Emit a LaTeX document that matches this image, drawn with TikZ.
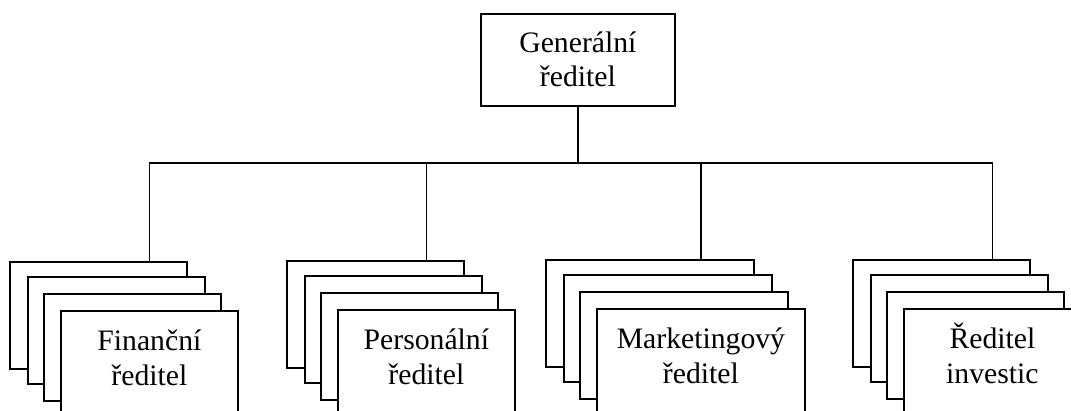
\documentclass[tikz,border=0pt]{standalone}
\usepackage{fontspec}
\setmainfont{Liberation Serif}
\begin{document}
\begin{tikzpicture}[x=1pt,y=-1pt,
  card/.style={draw, line width=1.8pt, fill=white, inner sep=0pt,
    minimum height=107pt, anchor=north west},
  narrow/.style={card, minimum width=177pt},
  wide/.style={card, minimum width=208pt},
  caption/.style={font=\fontsize{29.7}{35}\selectfont, align=center,
    anchor=base, inner sep=0pt},
  link/.style={line width=1.6pt}]
\clip (0,0) rectangle (1071,410);
\fill[white] (0,0) rectangle (1071,410);

% general director (base anchor sits on the last line)
\node[card, minimum width=194pt, minimum height=92pt] (gen) at (480,13) {};
\node[caption, font=\fontsize{29.7}{34}\selectfont] (gent)
  at ([yshift=-73pt]gen.north) {Generální\\ředitel};
\coordinate (hub) at ([yshift=-56pt]gen.south);

% finance
\node[narrow] (fin1) at (9,261) {};
\node[narrow] (fin2) at (27,276) {};
\node[narrow] (fin3) at (43,293) {};
\node[narrow] (fin4) at (60,310) {};
\node[caption] (fint) at ([yshift=-75pt]fin4.north) {Finanční\\ředitel};

% personnel
\node[narrow] (per1) at (286,260) {};
\node[narrow] (per2) at (304,275) {};
\node[narrow] (per3) at (320,292) {};
\node[narrow] (per4) at (337,309) {};
\node[caption] (pert) at ([yshift=-75pt]per4.north) {Personální\\ředitel};

% marketing
\node[wide] (mar1) at (545,259) {};
\node[wide] (mar2) at (563,274) {};
\node[wide] (mar3) at (579,291) {};
\node[wide] (mar4) at (596,308) {};
\node[caption] (mart) at ([yshift=-75pt]mar4.north) {Marketingový\\ředitel};

% investments
\node[narrow] (inv1) at (852,259) {};
\node[narrow] (inv2) at (870,274) {};
\node[narrow] (inv3) at (886,291) {};
\node[narrow] (inv4) at (903,308) {};
\node[caption] (invt) at ([yshift=-75pt]inv4.north) {Ředitel\\investic};

% connectors
\draw[link] (gen.south) -- (hub);
\draw[link] (fin4.north |- fin1.north) -- (hub -| fin4.north)
  -- (hub -| inv4.north) -- (inv4.north |- inv1.north);
\draw[link] (hub -| per4.north) -- (per4.north |- per1.north);
\draw[link] (hub -| mar4.north) -- (mar4.north |- mar1.north);
\end{tikzpicture}
\end{document}
